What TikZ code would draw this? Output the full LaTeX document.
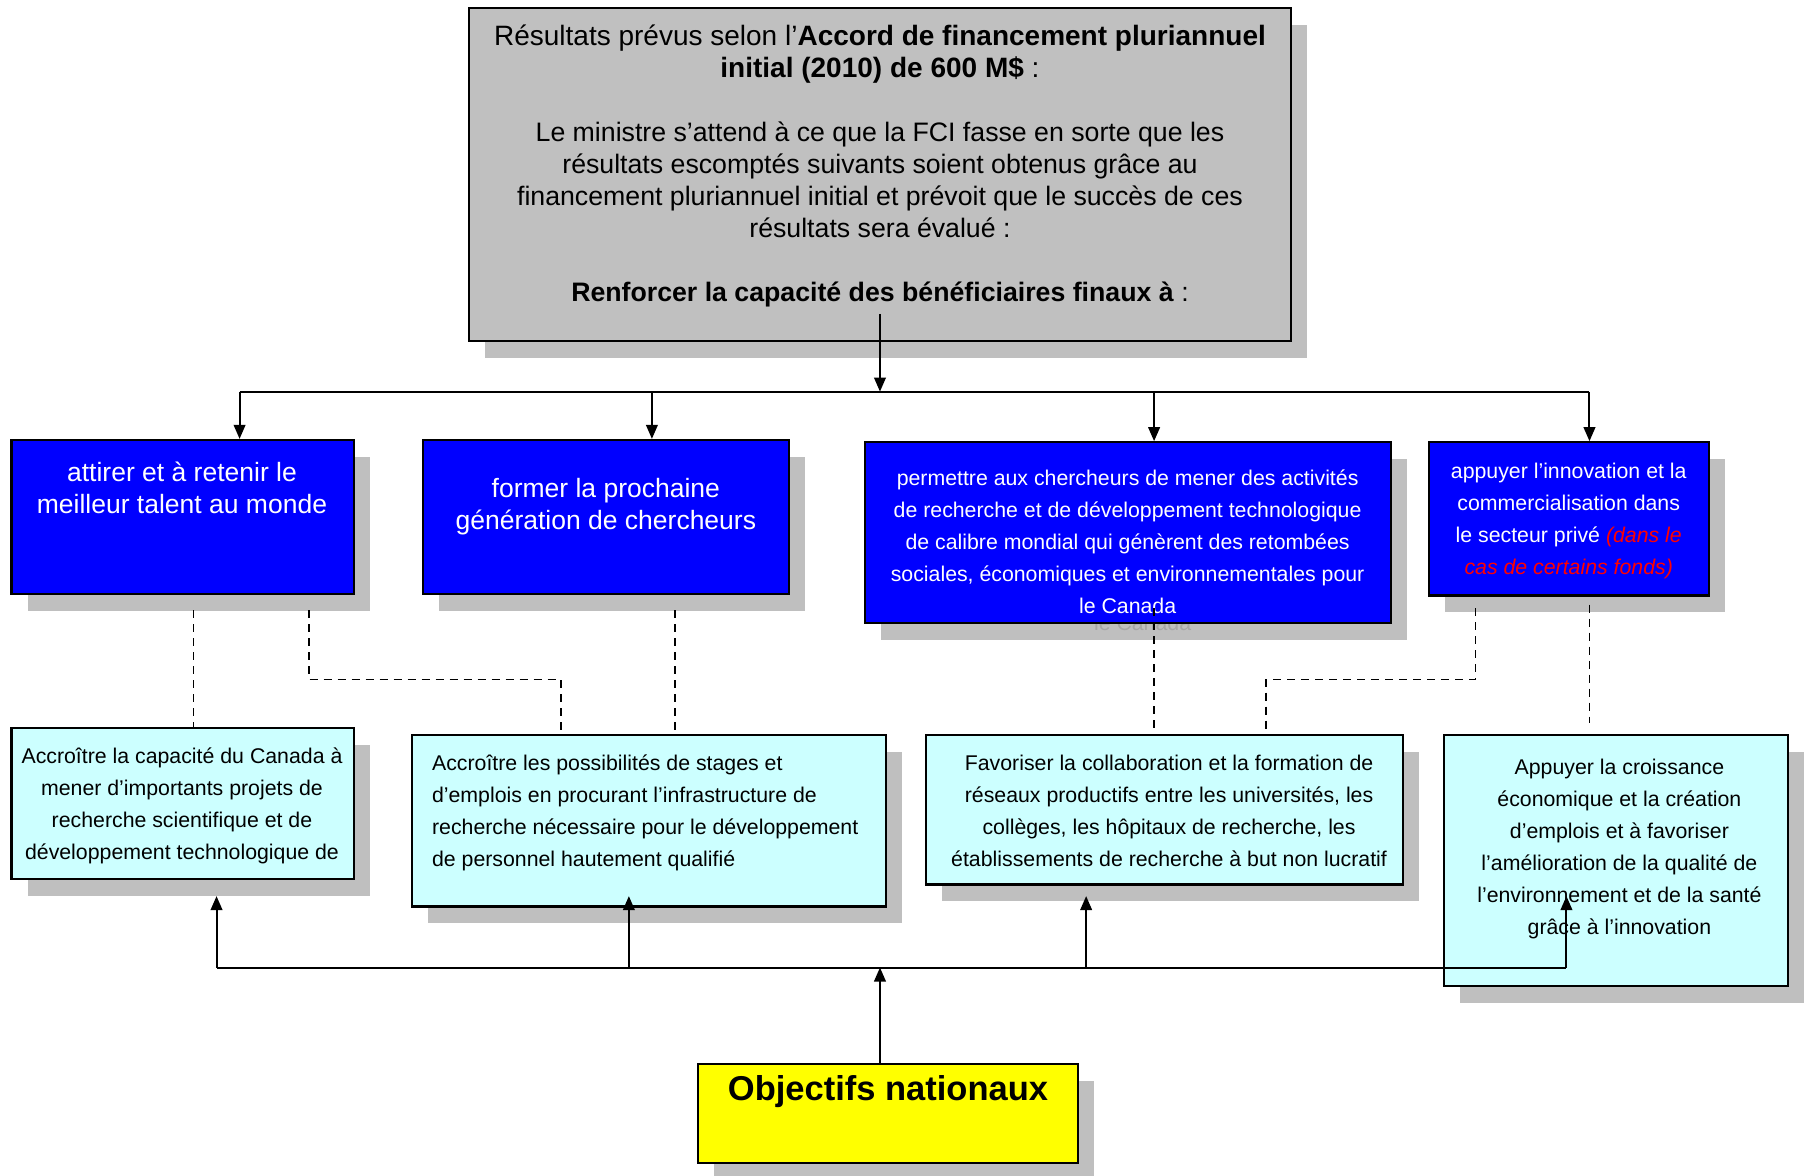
\documentclass[tikz,border=0pt]{standalone}
\usepackage{fontspec}
\setmainfont{Liberation Sans}
\usetikzlibrary{arrows.meta, fit, shadows}
\definecolor{boxgray}{HTML}{C0C0C0}
\definecolor{shadowgray}{HTML}{BFBFBF}
\definecolor{fciblue}{HTML}{0000FF}
\definecolor{fcicyan}{HTML}{CCFFFF}
\definecolor{fciyellow}{HTML}{FFFF00}
\definecolor{ghostgray}{HTML}{A6A6A6}

\tikzset{
  box/.style={draw=black, line width=1.1pt, inner sep=0pt,
    drop shadow={shadow xshift=8pt, shadow yshift=-8.4pt, fill=shadowgray, opacity=1}},
  graybox/.style={box, fill=boxgray},
  bluebox/.style={box, fill=fciblue},
  cyanbox/.style={box, fill=fcicyan},
  yellowbox/.style={box, fill=fciyellow},
  toptext/.style={align=center, font=\fontsize{13.35}{16}\selectfont},
  bigwhite/.style={align=center, text=white, font=\fontsize{13.25}{16}\selectfont},
  smallwhite/.style={align=center, text=white, font=\fontsize{10.65}{16}\selectfont},
  smalltext/.style={align=center, font=\fontsize{10.65}{16}\selectfont},
  conn/.style={line width=1pt},
  connarrow/.style={conn, -{Triangle[length=7pt, width=5.8pt]}},
  conndash/.style={line width=0.9pt, dash pattern=on 4pt off 3pt},
}

\begin{document}
\begin{tikzpicture}[x=0.5759pt, y=-0.5759pt]
  \useasboundingbox (0,0) rectangle (1568,1021);

  % Box for the funding agreement
  \node[graybox, fit={(407,7) (1121,296)}] (accord) {};
  \node[toptext] (taccord) at (764,144) {{\fontsize{14}{16}\selectfont Résultats prévus selon l’\textbf{Accord de financement pluriannuel}}\\
    {\fontsize{14}{16}\selectfont\textbf{initial (2010) de 600 M\$} :}\\[16pt]
    Le ministre s’attend à ce que la FCI fasse en sorte que les\\
    résultats escomptés suivants soient obtenus grâce au\\
    financement pluriannuel initial et prévoit que le succès de ces\\
    résultats sera évalué :\\[16pt]
    \textbf{Renforcer la capacité des bénéficiaires finaux à} :};

  % Boxes for the four capacities
  \node[bluebox, fit={(10,382) (307,516)}] (attirer) {};
  \node[bigwhite] (tattirer) at (158,424) {attirer et à retenir le\\meilleur talent au monde};

  \node[bluebox, fit={(367,382) (685,516)}] (former) {};
  \node[bigwhite] (tformer) at (526,440) {former la prochaine\\génération de chercheurs};

  \node[bluebox, fit={(751,384) (1208,541)}] (permettre) {};
  \node[smallwhite] (tpermettre) at (979,470) {permettre aux chercheurs de mener des activités\\
    de recherche et de développement technologique\\
    de calibre mondial qui génèrent des retombées\\
    sociales, économiques et environnementales pour\\
    le Canada};
  \begin{scope}
    \clip (751,542) rectangle (1230,560);
    \node[smalltext, text=ghostgray] (ombre) at (992,541) {le Canada};
  \end{scope}

  \node[bluebox, fit={(1241,384) (1484,517)}] (appuyer) {};
  \node[smallwhite] (tappuyer) at (1362,452.5) {appuyer l’innovation et la\\
    commercialisation dans\\
    le secteur privé \textcolor{red}{\itshape(dans le}\\
    \textcolor{red}{\itshape cas de certains fonds)}};

  % Boxes for the expected results
  \node[cyanbox, fit={(10,632) (307,763)}] (canada) {};
  \node[smalltext] (tcanada) at (158,700) {Accroître la capacité du Canada à\\
    mener d’importants projets de\\
    recherche scientifique et de\\
    développement technologique de};

  \node[cyanbox, fit={(358,638) (769,787)}] (stages) {};
  \node[smalltext, align=left, anchor=west] (tstages) at (369,706) {Accroître les possibilités de stages et\\
    d’emplois en procurant l’infrastructure de\\
    recherche nécessaire pour le développement\\
    de personnel hautement qualifié};

  \node[cyanbox, fit={(804,638) (1218,768)}] (reseaux) {};
  \node[smalltext] (treseaux) at (1015,704) {Favoriser la collaboration et la formation de\\
    réseaux productifs entre les universités, les\\
    collèges, les hôpitaux de recherche, les\\
    établissements de recherche à but non lucratif};

  \node[cyanbox, fit={(1254,638) (1552,856)}] (croissance) {};
  \node[smalltext] (tcroissance) at (1406,737.5) {Appuyer la croissance\\
    économique et la création\\
    d’emplois et à favoriser\\
    l’amélioration de la qualité de\\
    l’environnement et de la santé\\
    grâce à l’innovation};

  % Box for the national goals
  \node[yellowbox, fit={(606,924) (936,1010)}] (objectifs) {};
  \node[font=\fontsize{17.25}{20}\selectfont\bfseries] (tobjectifs) at (771,948) {Objectifs nationaux};

  % Top bus
  \coordinate (haut) at (764,340);
  \coordinate (hA) at (208,340);
  \coordinate (hB) at (566,340);
  \coordinate (hC) at (1002,340);
  \coordinate (hD) at (1380,340);
  \draw[connarrow] (taccord.south) -- (haut);
  \draw[conn] (hA) -- (hD);
  \draw[connarrow] (hA) -- (hA |- attirer.north);
  \draw[connarrow] (hB) -- (hB |- former.north);
  \draw[connarrow] (hC) -- (hC |- permettre.north);
  \draw[connarrow] (hD) -- (hD |- appuyer.north);

  % Dashed links
  \coordinate (dA) at (168,530);
  \coordinate (dB) at (268,530);
  \coordinate (dBb) at (487,590);
  \coordinate (dC) at (586,530);
  \coordinate (dD) at (1002,528);
  \coordinate (dE) at (1281,528);
  \coordinate (dEb) at (1099,590);
  \coordinate (dF) at (1380,525);
  \coordinate (dFb) at (1380,628);
  \draw[conndash] (dA) -- (dA |- canada.north);
  \draw[conndash] (dB) |- (dBb) -- (dBb |- stages.north);
  \draw[conndash] (dC) -- (dC |- stages.north);
  \draw[conndash] (dD) -- (dD |- reseaux.north);
  \draw[conndash] (dE) |- (dEb) -- (dEb |- reseaux.north);
  \draw[conndash] (dF) -- (dFb);

  % Bottom bus
  \coordinate (bas) at (764,840);
  \draw[connarrow] (objectifs.north -| bas) -- (bas);
  \foreach \x/\n in {188/A, 546/B, 943/C, 1360/D} {
    \coordinate (b\n) at (\x,840);
    \coordinate (p\n) at (\x,778);
    \draw[connarrow] (b\n) -- (p\n);
  }
  \draw[conn] (bA) -- (bD);
\end{tikzpicture}
\end{document}
